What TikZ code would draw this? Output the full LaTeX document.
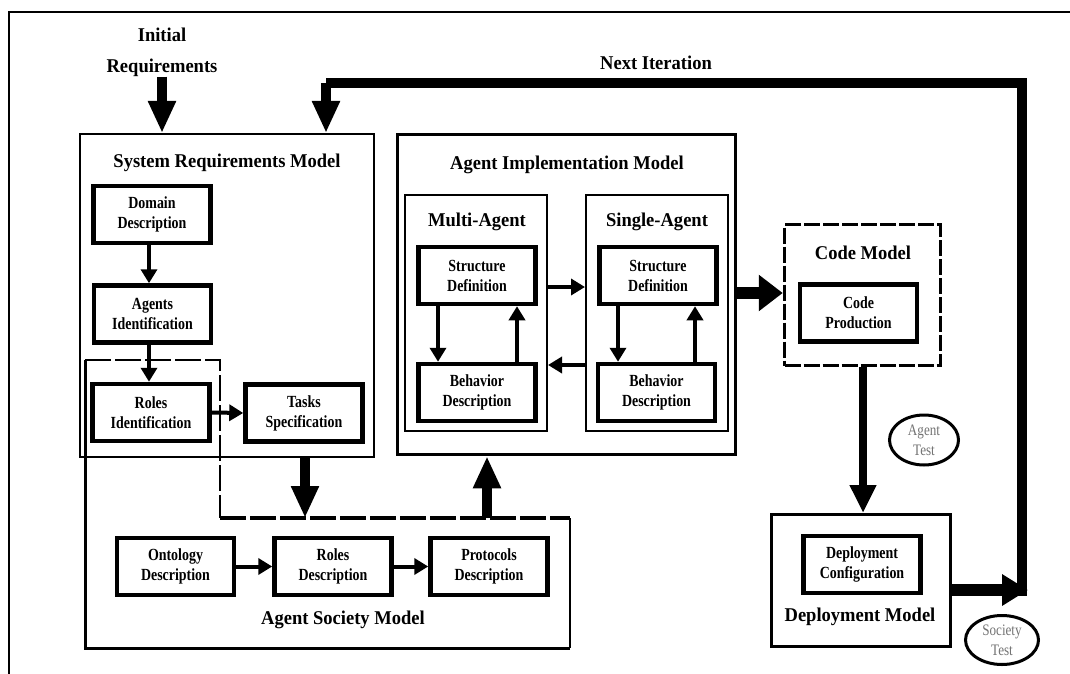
\documentclass[tikz,border=0pt]{standalone}
\usepackage{fontspec}
\setmainfont{Liberation Serif}
\newfontfamily\titlefont[FakeStretch=0.95]{Liberation Serif}
\newfontfamily\boxfont[FakeStretch=0.82]{Liberation Serif}
\usetikzlibrary{arrows.meta,shapes.geometric}

\begin{document}
\begin{tikzpicture}[x=1pt,y=-1pt,
  every node/.style={inner sep=0pt},
  titletext/.style={font=\titlefont\bfseries\fontsize{19.5}{31}\selectfont, align=center},
  model/.style={draw, line width=2pt},
  stepbox/.style={draw, line width=4.5pt, fill=white, minimum width=117pt,
    minimum height=57pt, align=center, font=\boxfont\bfseries\fontsize{17}{20}\selectfont},
  testring/.style={draw, ellipse, line width=3pt, fill=white},
  testtext/.style={font=\boxfont\fontsize{16}{20}\selectfont, text=black!55, align=center},
  arr/.style={line width=4pt, -{Triangle[width=16pt,length=14pt]}},
  bigarr/.style={line width=10pt, -{Triangle[width=26pt,length=32pt]}},
]
\useasboundingbox (0,0) rectangle (1070,674);
\fill[white] (0,0) rectangle (1070,674);

% page frame
\draw[line width=1.5pt] (9,674) -- (9,12) -- (1070,12);

% ---------- Agent Society Model outline ----------
\coordinate (asmA) at (85,360);
\coordinate (asmB) at (220,360);
\coordinate (asmC) at (220,518);
\coordinate (asmD) at (570,518);
\coordinate (asmE) at (570,648);
\coordinate (asmF) at (85,648);
\draw[line width=3pt] (asmA) -- (asmF) -- (asmE);
\draw[line width=2pt, dash pattern=on 26pt off 4pt] (asmA) -- (asmB) -- (asmC);
\draw[line width=4pt, dash pattern=on 26pt off 4pt] (asmC) -- (asmD);
\draw[line width=2pt] (asmD) -- (asmE);

% ---------- System Requirements Model ----------
\node[model, minimum width=294pt, minimum height=323pt] (srm) at (227,295.5) {};
\node[titletext] (srmtitle) at (227,163) {System Requirements Model};
\node[stepbox] (domain) at (152,214.5) {Domain\\Description};
\node[stepbox] (agents) at (152.5,314) {Agents\\Identification};
\node[stepbox] (rolesid) at (151,412.5) {Roles\\Identification};
\node[stepbox] (tasks) at (304,413) {Tasks\\Specification};

% ---------- Agent Implementation Model ----------
\node[model, line width=3.5pt, minimum width=338pt, minimum height=320pt] (aim) at (566.5,294.5) {};
\node[titletext] (aimtitle) at (567,165) {Agent Implementation Model};
\node[model, minimum width=142pt, minimum height=236pt] (ma) at (476,313) {};
\node[model, minimum width=142pt, minimum height=236pt] (sa) at (657,313) {};
\node[titletext] (matitle) at (477,222) {Multi-Agent};
\node[titletext] (satitle) at (657,222) {Single-Agent};
\node[stepbox] (mas) at (477,275.5) {Structure\\Definition};
\node[stepbox] (mab) at (477,392.5) {Behavior\\Description};
\node[stepbox] (sas) at (658,275.5) {Structure\\Definition};
\node[stepbox] (sab) at (656.5,392.5) {Behavior\\Description};

% ---------- Code Model ----------
\node[draw, line width=3.5pt, dash pattern=on 16pt off 3pt,
      minimum width=156pt, minimum height=141pt] (code) at (862.5,295) {};
\node[titletext] (codetitle) at (863,253) {Code Model};
\node[stepbox] (codeprod) at (858.5,313) {Code\\Production};

% ---------- Deployment Model ----------
\node[model, line width=3pt, minimum width=179pt, minimum height=132pt] (depm) at (861,580.5) {};
\node[stepbox] (depconf) at (862,564.5) {Deployment\\Configuration};
\node[titletext] (depmtitle) at (860,617) {Deployment Model};

% ---------- Agent Society Model content ----------
\node[stepbox] (onto) at (175.5,566.5) {Ontology\\Description};
\node[stepbox] (rolesd) at (333,566.5) {Roles\\Description};
\node[stepbox] (proto) at (489,566.5) {Protocols\\Description};
\node[titletext] (asmtitle) at (343,620) {Agent Society Model};

% ---------- tests ----------
\node[testring, minimum width=69pt, minimum height=50pt] (agenttest) at (924,440) {};
\node[testtext] at (agenttest) {Agent\\Test};
\node[testring, minimum width=73pt, minimum height=49pt] (societytest) at (1002,640) {};
\node[testtext] at (societytest) {Society\\Test};

% ---------- labels ----------
\node[titletext] (initreq) at (162,52) {Initial\\Requirements};
\node[titletext] (nextit) at (656,63) {Next Iteration};

% ---------- connectors ----------
\draw[bigarr] (initreq.south) -- (initreq.south |- srm.north);

\coordinate (loopbot) at (1022,596);
\coordinate (looptop) at (1022,83);
\coordinate (looparr) at (1028,590);
\draw[line width=10pt] (loopbot) -- (looptop) -- (looptop -| 326,0);
\draw[bigarr] (looptop -| 326,0) -- (srm.north -| 326,0);
\draw[line width=12pt, -{Triangle[width=30pt,length=26pt]}] (depm.east |- looparr) -- (looparr);

\draw[arr] (domain.south -| 149,0) -- (agents.north -| 149,0);
\draw[arr] (agents.south -| 149,0) -- (rolesid.north -| 149,0);
\draw[arr] (rolesid.east) -- (tasks.west);

\draw[bigarr] (srm.south -| 305,0) -- (asmC -| 305,0);
\draw[bigarr] (asmC -| 487,0) -- (aim.south -| 487,0);

\draw[arr] (mas.south -| 438,0) -- (mab.north -| 438,0);
\draw[arr] (mab.north -| 517,0) -- (mas.south -| 517,0);
\draw[arr] (sas.south -| 618,0) -- (sab.north -| 618,0);
\draw[arr] (sab.north -| 695,0) -- (sas.south -| 695,0);
\draw[arr] (ma.east |- 0,287) -- (sa.west |- 0,287);
\draw[arr] (sa.west |- 0,365) -- (ma.east |- 0,365);

\draw[line width=12pt, -{Triangle[width=35pt,length=24pt]}] (aim.east |- 0,293) -- (code.west |- 0,293);
\draw[line width=8pt, -{Triangle[width=25pt,length=28pt]}] (code.south -| 863,0) -- (depm.north -| 863,0);

\draw[arr] (onto.east) -- (rolesd.west);
\draw[arr] (rolesd.east) -- (proto.west);
\end{tikzpicture}
\end{document}
